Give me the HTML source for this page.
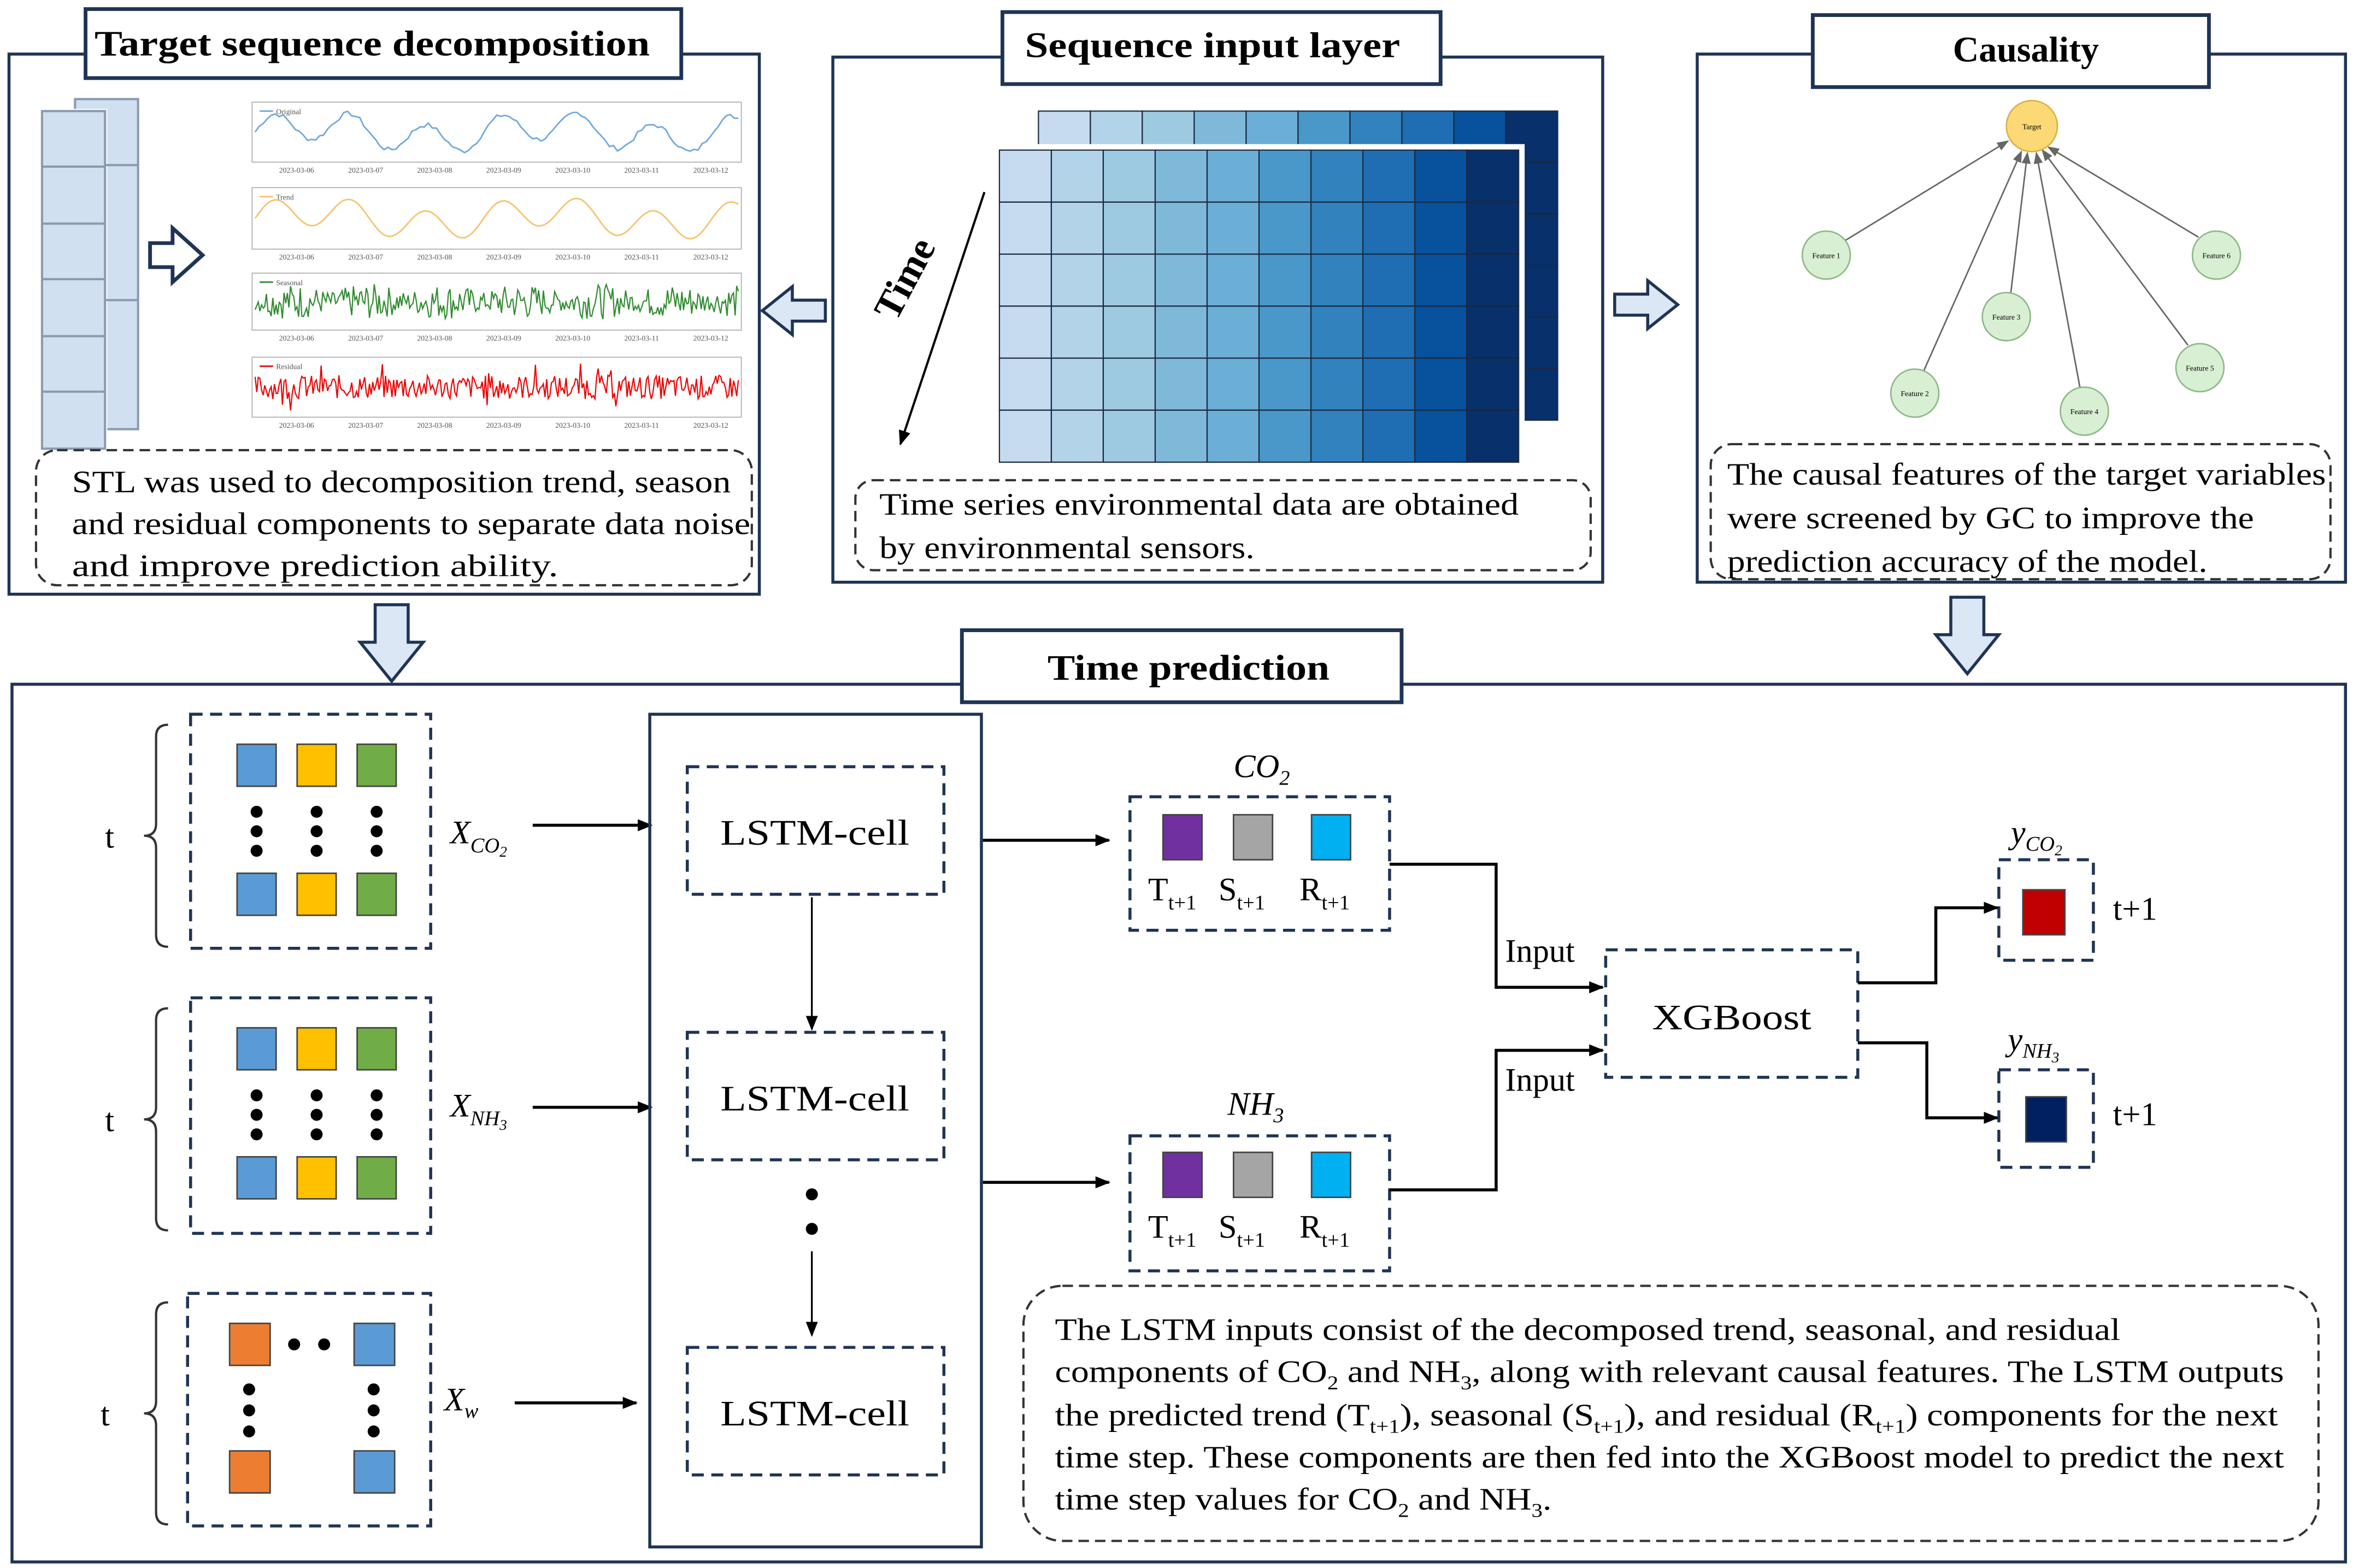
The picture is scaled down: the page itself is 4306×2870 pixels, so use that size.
<!DOCTYPE html>
<html><head><meta charset="utf-8"><style>
html,body{margin:0;padding:0;background:#fff;}
svg{display:block;}
text{font-family:"Liberation Serif",serif;}
</style></head><body>
<svg id="s" width="4306" height="2870" viewBox="0 0 1568 1045" xmlns="http://www.w3.org/2000/svg">
<defs>
<marker id="ah" markerWidth="10" markerHeight="10" refX="9" refY="5" orient="auto" markerUnits="userSpaceOnUse"><path d="M0,1 L10,5 L0,9 z" fill="#000"/></marker>
<marker id="ah2" markerWidth="8" markerHeight="8" refX="7" refY="4" orient="auto" markerUnits="userSpaceOnUse"><path d="M0,1 L8,4 L0,7 z" fill="#666"/></marker>
</defs>
<rect width="1568" height="1045" fill="#fff"/>
<g fill="none" stroke="#1f3455" stroke-width="2">
<rect x="6" y="36" width="500" height="360"/>
<rect x="555" y="38" width="513" height="350"/>
<rect x="1131" y="36" width="432" height="352"/>
<rect x="8" y="456" width="1555" height="585"/>
</g>
<g fill="#fff" stroke="#1f3455" stroke-width="2.5">
<rect x="57" y="6" width="397" height="46"/>
<rect x="668" y="8" width="292" height="48"/>
<rect x="1208" y="10" width="264" height="48"/>
<rect x="641" y="420" width="293" height="48"/>
</g>
<g font-weight="bold" font-size="24" text-anchor="middle">
<text x="248" y="37" textLength="370" lengthAdjust="spacingAndGlyphs">Target sequence decomposition</text>
<text x="808" y="38" textLength="250" lengthAdjust="spacingAndGlyphs">Sequence input layer</text>
<text x="1350" y="41">Causality</text>
<text x="792" y="453" textLength="188" lengthAdjust="spacingAndGlyphs">Time prediction</text>
</g>

<g stroke="#8a9bb0" stroke-width="1.5" fill="#d0e0f0">
<rect x="50" y="66" width="42" height="220"/>
<rect x="28" y="74" width="42" height="225" stroke="#fff" stroke-width="3"/>
<rect x="28" y="74" width="42" height="225"/>
</g>
<g stroke="#8a9bb0" stroke-width="1.5">
<line x1="28" y1="111" x2="70" y2="111"/><line x1="28" y1="149" x2="70" y2="149"/><line x1="28" y1="186" x2="70" y2="186"/><line x1="28" y1="224" x2="70" y2="224"/><line x1="28" y1="261" x2="70" y2="261"/>
<line x1="70" y1="110" x2="92" y2="110"/><line x1="70" y1="200" x2="92" y2="200"/>
</g>
<path d="M100,162 h15 v-10 l20,18 l-20,18 v-10 h-15 z" fill="#fff" stroke="#1f3455" stroke-width="2.5"/>

<g id="charts" font-family="Liberation Sans" font-size="5" fill="#555"></g>

<g fill="#dbe7f5" stroke="#1f3455" stroke-width="2">
<path d="M550,200 h-22 v-9 l-20,16 l20,16 v-9 h22 z"/>
<path d="M1076,196 h22 v-9 l20,16 l-20,16 v-9 h-22 z"/>
<path d="M250,403 h22 v25 h10 l-21,26 l-21,-26 h10 z"/>
<path d="M1300,398 h22 v25 h10 l-21,26 l-21,-26 h10 z"/>
</g>

<g id="grid"></g>
<text x="0" y="0" font-size="26" font-weight="bold" transform="translate(597,215) rotate(-62)">Time</text>
<line x1="656" y1="128" x2="600" y2="296" stroke="#000" stroke-width="1.5" marker-end="url(#ah)"/>

<g stroke="#666" stroke-width="1" marker-end="url(#ah2)">
<line x1="1230" y1="160" x2="1338" y2="94"/>
<line x1="1465" y1="158" x2="1365" y2="98"/>
<line x1="1340" y1="195" x2="1351" y2="102"/>
<line x1="1458" y1="230" x2="1361" y2="100"/>
<line x1="1282" y1="247" x2="1347" y2="101"/>
<line x1="1386" y1="258" x2="1357" y2="102"/>
</g>
<g stroke="#8fb98a" stroke-width="1" fill="#d9efd3">
<circle cx="1217" cy="170" r="16"/><circle cx="1477" cy="170" r="16"/><circle cx="1337" cy="211" r="16"/>
<circle cx="1466" cy="245" r="16"/><circle cx="1276" cy="262" r="16"/><circle cx="1389" cy="274" r="16"/>
</g>
<circle cx="1354" cy="84" r="17" fill="#fcd975" stroke="#d8b24a"/>
<g font-size="5" text-anchor="middle" font-family="Liberation Sans">
<text x="1354" y="86">Target</text><text x="1217" y="172">Feature 1</text><text x="1477" y="172">Feature 6</text>
<text x="1337" y="213">Feature 3</text><text x="1466" y="247">Feature 5</text><text x="1276" y="264">Feature 2</text><text x="1389" y="276">Feature 4</text>
</g>

<g fill="none" stroke="#333" stroke-width="1.5" stroke-dasharray="7,4">
<rect x="24" y="300" width="477" height="90" rx="14"/>
<rect x="570" y="320" width="490" height="60" rx="12"/>
<rect x="1140" y="296" width="413" height="90" rx="14"/>
<rect x="682" y="857" width="863" height="170" rx="26"/>
</g>
<g font-size="21" lengthAdjust="spacingAndGlyphs">
<text x="48" y="328" textLength="439" lengthAdjust="spacingAndGlyphs">STL was used to decomposition trend, season</text>
<text x="48" y="356" textLength="452" lengthAdjust="spacingAndGlyphs">and residual components to separate data noise</text>
<text x="48" y="384" textLength="324" lengthAdjust="spacingAndGlyphs">and improve prediction ability.</text>
<text x="586" y="343" textLength="426" lengthAdjust="spacingAndGlyphs">Time series environmental data are obtained</text>
<text x="586" y="372" textLength="250" lengthAdjust="spacingAndGlyphs">by environmental sensors.</text>
<text x="1151" y="323" textLength="399" lengthAdjust="spacingAndGlyphs">The causal features of the target variables</text>
<text x="1151" y="352" textLength="351" lengthAdjust="spacingAndGlyphs">were screened by GC to improve the</text>
<text x="1151" y="381" textLength="320" lengthAdjust="spacingAndGlyphs">prediction accuracy of the model.</text>
<text x="703" y="893" textLength="710" lengthAdjust="spacingAndGlyphs">The LSTM inputs consist of the decomposed trend, seasonal, and residual</text>
<text x="703" y="921" textLength="819" lengthAdjust="spacingAndGlyphs">components of CO<tspan font-size="13" dy="5">2</tspan><tspan dy="-5"> and NH</tspan><tspan font-size="13" dy="5">3</tspan><tspan dy="-5">, along with relevant causal features. The LSTM outputs</tspan></text>
<text x="703" y="950" textLength="815" lengthAdjust="spacingAndGlyphs">the predicted trend (T<tspan font-size="13" dy="5">t+1</tspan><tspan dy="-5">), seasonal (S</tspan><tspan font-size="13" dy="5">t+1</tspan><tspan dy="-5">), and residual (R</tspan><tspan font-size="13" dy="5">t+1</tspan><tspan dy="-5">) components for the next</tspan></text>
<text x="703" y="978" textLength="819" lengthAdjust="spacingAndGlyphs">time step. These components are then fed into the XGBoost model to predict the next</text>
<text x="703" y="1006" textLength="331" lengthAdjust="spacingAndGlyphs">time step values for CO<tspan font-size="13" dy="5">2</tspan><tspan dy="-5"> and NH</tspan><tspan font-size="13" dy="5">3</tspan><tspan dy="-5">.</tspan></text>
</g>

<g fill="none" stroke="#1f3455" stroke-width="2" stroke-dasharray="8,5">
<rect x="127" y="476" width="160" height="156"/>
<rect x="127" y="665" width="160" height="157"/>
<rect x="125" y="862" width="162" height="155"/>
<rect x="458" y="511" width="171" height="85"/>
<rect x="458" y="688" width="171" height="85"/>
<rect x="458" y="898" width="171" height="85"/>
<rect x="753" y="531" width="173" height="89"/>
<rect x="753" y="757" width="173" height="90"/>
<rect x="1070" y="633" width="168" height="85"/>
<rect x="1332" y="573" width="63" height="67"/>
<rect x="1332" y="713" width="63" height="65"/>
</g>
<g fill="none" stroke="#333" stroke-width="1.5">
<path d="M112,483 q-8,0 -8,8 v58 q0,8 -8,8 q8,0 8,8 v58 q0,8 8,8"/>
<path d="M112,672 q-8,0 -8,8 v58 q0,8 -8,8 q8,0 8,8 v58 q0,8 8,8"/>
<path d="M112,868 q-8,0 -8,8 v58 q0,8 -8,8 q8,0 8,8 v58 q0,8 8,8"/>
</g>
<g font-size="22"><text x="70" y="565">t</text><text x="70" y="754">t</text><text x="67" y="950">t</text></g>
<g stroke="#444" stroke-width="1">
<rect x="158" y="496" width="26" height="28" fill="#5b9bd5"/><rect x="198" y="496" width="26" height="28" fill="#ffc000"/><rect x="238" y="496" width="26" height="28" fill="#70ad47"/>
<rect x="158" y="582" width="26" height="28" fill="#5b9bd5"/><rect x="198" y="582" width="26" height="28" fill="#ffc000"/><rect x="238" y="582" width="26" height="28" fill="#70ad47"/>
<rect x="158" y="685" width="26" height="28" fill="#5b9bd5"/><rect x="198" y="685" width="26" height="28" fill="#ffc000"/><rect x="238" y="685" width="26" height="28" fill="#70ad47"/>
<rect x="158" y="771" width="26" height="28" fill="#5b9bd5"/><rect x="198" y="771" width="26" height="28" fill="#ffc000"/><rect x="238" y="771" width="26" height="28" fill="#70ad47"/>
<rect x="153" y="882" width="27" height="28" fill="#ed7d31"/><rect x="236" y="882" width="27" height="28" fill="#5b9bd5"/>
<rect x="153" y="967" width="27" height="28" fill="#ed7d31"/><rect x="236" y="967" width="27" height="28" fill="#5b9bd5"/>
<rect x="775" y="543" width="26" height="30" fill="#7030a0"/><rect x="822" y="543" width="26" height="30" fill="#a5a5a5"/><rect x="874" y="543" width="26" height="30" fill="#00b0f0"/>
<rect x="775" y="768" width="26" height="30" fill="#7030a0"/><rect x="822" y="768" width="26" height="30" fill="#a5a5a5"/><rect x="874" y="768" width="26" height="30" fill="#00b0f0"/>
<rect x="1348" y="593" width="28" height="30" fill="#c00000"/><rect x="1350" y="731" width="27" height="30" fill="#002060"/>
</g>
<g fill="#000">
<circle cx="171" cy="541" r="4"/><circle cx="171" cy="554" r="4"/><circle cx="171" cy="567" r="4"/>
<circle cx="211" cy="541" r="4"/><circle cx="211" cy="554" r="4"/><circle cx="211" cy="567" r="4"/>
<circle cx="251" cy="541" r="4"/><circle cx="251" cy="554" r="4"/><circle cx="251" cy="567" r="4"/>
<circle cx="171" cy="730" r="4"/><circle cx="171" cy="743" r="4"/><circle cx="171" cy="756" r="4"/>
<circle cx="211" cy="730" r="4"/><circle cx="211" cy="743" r="4"/><circle cx="211" cy="756" r="4"/>
<circle cx="251" cy="730" r="4"/><circle cx="251" cy="743" r="4"/><circle cx="251" cy="756" r="4"/>
<circle cx="196" cy="896" r="4"/><circle cx="216" cy="896" r="4"/>
<circle cx="166" cy="926" r="4"/><circle cx="166" cy="940" r="4"/><circle cx="166" cy="954" r="4"/>
<circle cx="249" cy="926" r="4"/><circle cx="249" cy="940" r="4"/><circle cx="249" cy="954" r="4"/>
<circle cx="541" cy="796" r="4"/><circle cx="541" cy="819" r="4"/>
</g>
<g font-size="22" font-style="italic">
<text x="300" y="562">X<tspan font-size="14" dy="6">CO</tspan><tspan font-size="10" dy="3">2</tspan></text>
<text x="300" y="744">X<tspan font-size="14" dy="6">NH</tspan><tspan font-size="10" dy="3">3</tspan></text>
<text x="296" y="940">X<tspan font-size="14" dy="5">w</tspan></text>
<text x="822" y="518">CO<tspan font-size="14" dy="5">2</tspan></text>
<text x="818" y="743">NH<tspan font-size="14" dy="5">3</tspan></text>
<text x="1340" y="562">y<tspan font-size="14" dy="5">CO</tspan><tspan font-size="10" dy="3">2</tspan></text>
<text x="1338" y="700">y<tspan font-size="14" dy="5">NH</tspan><tspan font-size="10" dy="3">3</tspan></text>
</g>
<g stroke="#000" stroke-width="2" fill="none">
<line x1="355" y1="550" x2="434" y2="550" marker-end="url(#ah)"/>
<line x1="355" y1="738" x2="434" y2="738" marker-end="url(#ah)"/>
<line x1="343" y1="935" x2="424" y2="935" marker-end="url(#ah)"/>
<line x1="655" y1="560" x2="739" y2="560" marker-end="url(#ah)"/>
<line x1="655" y1="788" x2="739" y2="788" marker-end="url(#ah)"/>
<polyline points="926,576 997,576 997,658 1068,658" marker-end="url(#ah)"/>
<polyline points="926,793 997,793 997,700 1068,700" marker-end="url(#ah)"/>
<polyline points="1238,655 1290,655 1290,605 1331,605" marker-end="url(#ah)"/>
<polyline points="1238,695 1284,695 1284,745 1331,745" marker-end="url(#ah)"/>
</g>
<g stroke="#000" stroke-width="1.2">
<line x1="541" y1="598" x2="541" y2="686" marker-end="url(#ah)"/>
<line x1="541" y1="834" x2="541" y2="890" marker-end="url(#ah)"/>
</g>
<rect x="433" y="476" width="221" height="555" fill="none" stroke="#1f3455" stroke-width="2"/>
<g font-size="24" text-anchor="middle">
<text x="543" y="563" textLength="126" lengthAdjust="spacingAndGlyphs">LSTM-cell</text><text x="543" y="740" textLength="126" lengthAdjust="spacingAndGlyphs">LSTM-cell</text><text x="543" y="950" textLength="126" lengthAdjust="spacingAndGlyphs">LSTM-cell</text>
<text x="1154" y="686" textLength="106" lengthAdjust="spacingAndGlyphs">XGBoost</text>
</g>
<g font-size="22">
<text x="1003" y="641">Input</text><text x="1003" y="727">Input</text>
<text x="1408" y="613">t+1</text><text x="1408" y="750">t+1</text>
<text x="765" y="600">T<tspan font-size="14" dy="6">t+1</tspan></text><text x="812" y="600">S<tspan font-size="14" dy="6">t+1</tspan></text><text x="866" y="600">R<tspan font-size="14" dy="6">t+1</tspan></text>
<text x="765" y="825">T<tspan font-size="14" dy="6">t+1</tspan></text><text x="812" y="825">S<tspan font-size="14" dy="6">t+1</tspan></text><text x="866" y="825">R<tspan font-size="14" dy="6">t+1</tspan></text>
</g>
</svg>
<script>
var NS="http://www.w3.org/2000/svg";
function el(p,t,a){var e=document.createElementNS(NS,t);for(var k in a)e.setAttribute(k,a[k]);p.appendChild(e);return e;}
var g=document.getElementById("grid");
var cols=["#c6dbef","#b3d3e8","#9ecae1","#7fb9da","#6baed6","#4a98c9","#3182bd","#1f6eb3","#08519c","#08306b"];
function layer(x0,y0,w,h){var cw=w/10,ch=h/6;for(var i=0;i<10;i++)for(var j=0;j<6;j++)el(g,"rect",{x:x0+i*cw,y:y0+j*ch,width:cw,height:ch,fill:cols[i],stroke:"#1a2a40","stroke-width":0.8});}
layer(692,74,346,206);
el(g,"rect",{x:662,y:96,width:354,height:216,fill:"#fff"});
layer(666,100,346,208);
var c=document.getElementById("charts");
var seed=7;function r(){seed=(seed*9301+49297)%233280;return seed/233280;}
var plots=[[68,120,"#6fa8dc","Original"],[125,178,"#f6c26b","Trend"],[182,232,"#2e8b2e","Seasonal"],[238,290,"#e00","Residual"]];
plots.forEach(function(p,idx){
 var x0=168,x1=494,y0=p[0],y1=p[1]-12;
 el(c,"rect",{x:x0,y:y0,width:x1-x0,height:y1-y0,fill:"none",stroke:"#aaa","stroke-width":0.6});
 el(c,"line",{x1:x0+5,y1:y0+6,x2:x0+14,y2:y0+6,stroke:p[2],"stroke-width":1});
 el(c,"text",{x:x0+16,y:y0+8}).textContent=p[3];
 for(var k=0;k<7;k++){el(c,"text",{x:x0+18+k*46,y:y1+7}).textContent="2023-03-"+(6+k<10?"0":"")+(6+k);}
 var d="",n=(idx>=2?300:120),mid=(y0+y1)/2,amp=(y1-y0)/2-4;
 for(var i=0;i<=n;i++){var t=i/n,x=x0+2+t*(x1-x0-4),v;
  if(idx==0)v=0.6*Math.sin(t*40)+0.3*Math.sin(t*13)+0.2*(r()-0.5);
  else if(idx==1)v=0.6*Math.sin(t*40)+0.3*Math.sin(t*13);
  else if(idx==2)v=(0.5+0.5*Math.abs(Math.sin(t*20)))*(r()*2-1)*0.8;
  else v=(r()*2-1)*0.5*(r()<0.05?2:1);
  d+=(i?"L":"M")+x.toFixed(1)+","+(mid-v*amp).toFixed(1);}
 el(c,"path",{d:d,fill:"none",stroke:p[2],"stroke-width":idx>=2?0.8:1});
});
</script>
</body></html>
